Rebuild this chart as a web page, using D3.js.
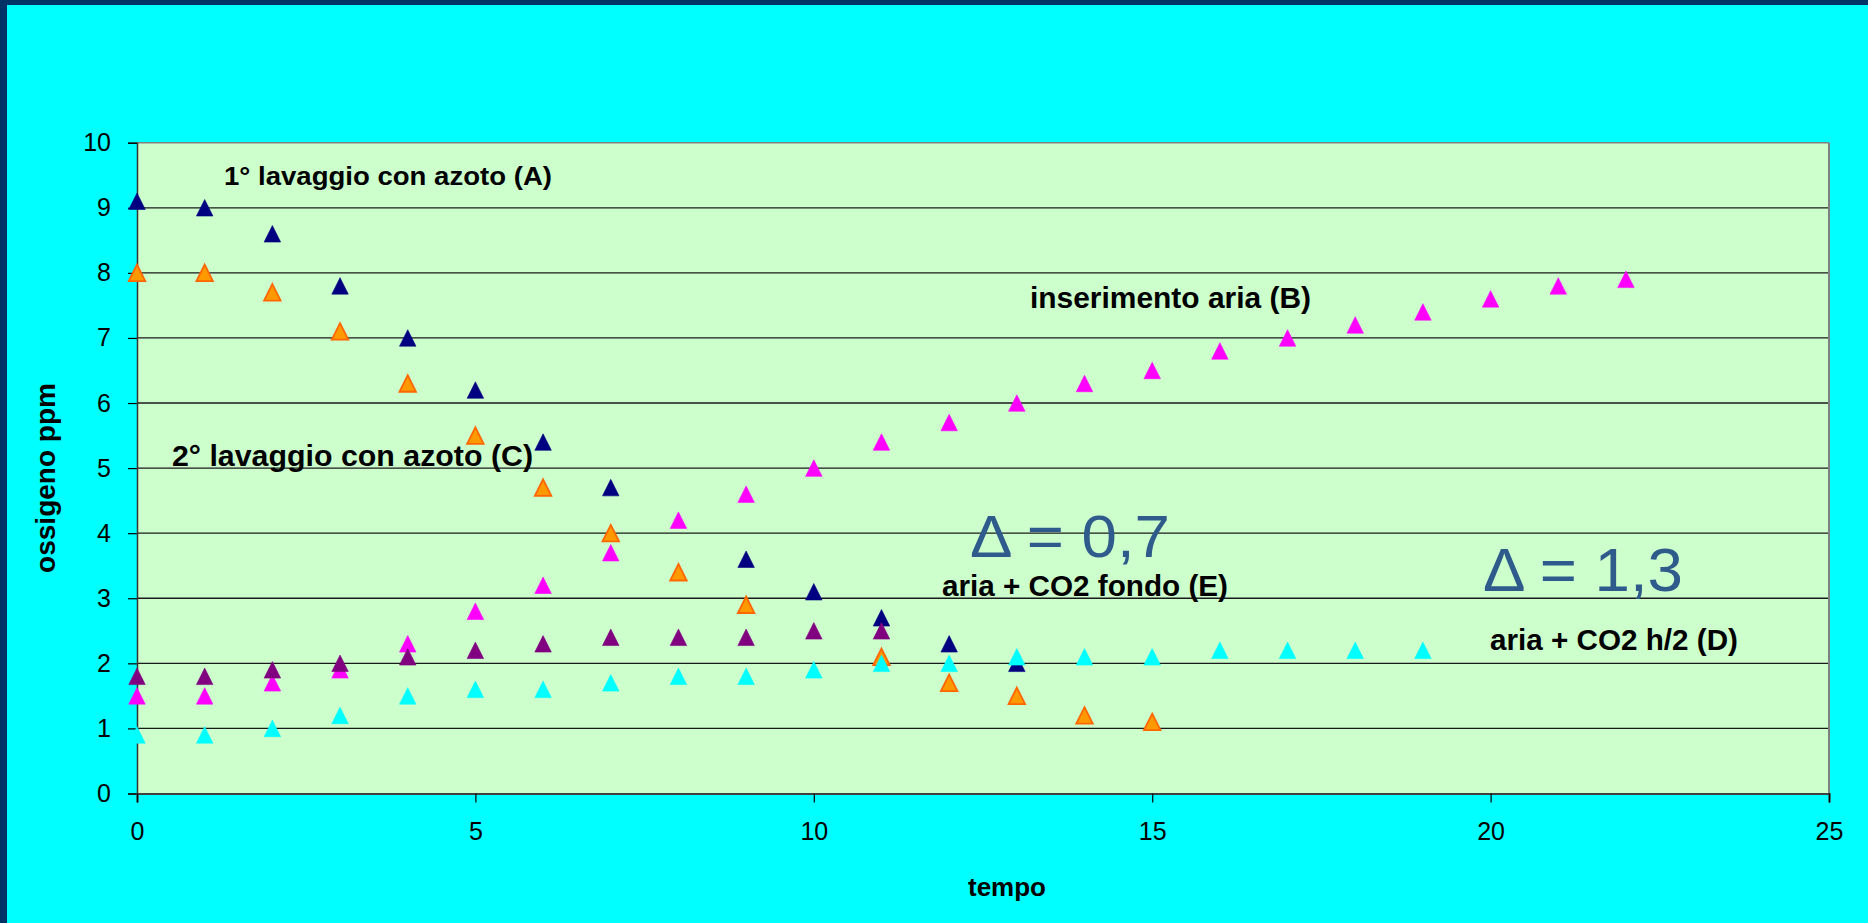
<!DOCTYPE html>
<html>
<head>
<meta charset="utf-8">
<script src="https://cdn.jsdelivr.net/npm/d3@7"></script>
<style>
  html, body { margin: 0; padding: 0; background: #00FFFF; }
  svg { display: block; }
  text { font-family: "Liberation Sans", Arial, sans-serif; }
</style>
</head>
<body>
<svg id="chart" width="1868" height="923"></svg>
<script>
// ---- data ----
const xTicks = [0, 5, 10, 15, 20, 25];
const yTicks = [0, 1, 2, 3, 4, 5, 6, 7, 8, 9, 10];

// A: 1° lavaggio con azoto (navy)
const seriesA = [9.1, 9.0, 8.6, 7.8, 7.0, 6.2, 5.4, 4.7, null, 3.6, 3.1, 2.7, 2.3, 2.0];
// B: inserimento aria (magenta)
const seriesB = [1.5, 1.5, 1.7, 1.9, 2.3, 2.8, 3.2, 3.7, 4.2, 4.6, 5.0, 5.4, 5.7, 6.0, 6.3, 6.5, 6.8, 7.0, 7.2, 7.4, 7.6, 7.8, 7.9];
// C: 2° lavaggio con azoto (orange)
const seriesC = [8.0, 8.0, 7.7, 7.1, 6.3, 5.5, 4.7, 4.0, 3.4, 2.9, null, 2.1, 1.7, 1.5, 1.2, 1.1];
// D: aria + CO2 h/2 (cyan)
const seriesD = [0.9, 0.9, 1.0, 1.2, 1.5, 1.6, 1.6, 1.7, 1.8, 1.8, 1.9, 2.0, 2.0, 2.1, 2.1, 2.1, 2.2, 2.2, 2.2, 2.2];
// E: aria + CO2 fondo (purple)
const seriesE = [1.8, 1.8, 1.9, 2.0, 2.1, 2.2, 2.3, 2.4, 2.4, 2.4, 2.5, 2.5];

const seriesNames = ["A", "B", "C", "D", "E"];
const seriesValues = [seriesA, seriesB, seriesC, seriesD, seriesE];
const seriesFill = ["#000080", "#FF00FF", "#FF9900", "#00FFFF", "#800080"];
const seriesStroke = ["#000080", "#FF00FF", "#FF6600", "#00FFFF", "#800080"];

const labels = [
  { text: "1° lavaggio con azoto (A)", x: 224, y: 185, size: 26, len: 328, kind: "label" },
  { text: "2° lavaggio con azoto (C)", x: 172, y: 466, size: 29, len: 361, kind: "label" },
  { text: "inserimento aria (B)", x: 1030, y: 308, size: 30, len: 281, kind: "label" },
  { text: "aria + CO2 fondo (E)", x: 942, y: 596, size: 29, len: 286, kind: "label" },
  { text: "aria + CO2 h/2 (D)", x: 1490, y: 650, size: 29, len: 248, kind: "label" },
  { text: "\u0394 = 0,7", x: 970, y: 557, size: 60, len: 200, kind: "delta" },
  { text: "\u0394 = 1,3", x: 1483, y: 591, size: 61, len: 200, kind: "delta" }
];

// ---- layout ----
const W = 1868, H = 923;
const plot = { left: 137, right: 1829, top: 142.7, bottom: 793.5 };

const svg = d3.select("#chart");

// background + frame
svg.append("rect").attr("x", 0).attr("y", 0).attr("width", W).attr("height", H).attr("fill", "#00FFFF");
svg.append("rect").attr("x", 0).attr("y", 0).attr("width", 7).attr("height", H).attr("fill", "#003366");
svg.append("rect").attr("x", 0).attr("y", 0).attr("width", W).attr("height", 5).attr("fill", "#003366");

const x = d3.scaleLinear().domain([0, 25]).range([plot.left, plot.right]);
const y = d3.scaleLinear().domain([0, 10]).range([plot.bottom, plot.top]);

// plot area
svg.append("rect")
  .attr("x", plot.left).attr("y", plot.top)
  .attr("width", plot.right - plot.left).attr("height", plot.bottom - plot.top)
  .attr("fill", "#CCFFCC");

// gridlines
svg.append("g").selectAll("line")
  .data(yTicks.filter(d => d > 0 && d < 10))
  .join("line")
  .attr("x1", plot.left).attr("x2", plot.right)
  .attr("y1", d => y(d)).attr("y2", d => y(d))
  .attr("stroke", "#1a1a1a").attr("stroke-width", 1.3);

// top & right border
svg.append("line").attr("x1", plot.left).attr("x2", plot.right).attr("y1", y(10)).attr("y2", y(10))
  .attr("stroke", "#808080").attr("stroke-width", 1.5);
svg.append("line").attr("x1", plot.right).attr("x2", plot.right).attr("y1", plot.top).attr("y2", plot.bottom)
  .attr("stroke", "#808080").attr("stroke-width", 2);

// axes
const yAxis = d3.axisLeft(y).tickValues(yTicks).tickSize(9).tickPadding(17).tickFormat(d3.format("d"));
const gy = svg.append("g").attr("transform", `translate(${plot.left},0)`).call(yAxis);
gy.select(".domain").attr("stroke", "#333").attr("stroke-width", 1.5);
gy.selectAll(".tick line").attr("stroke", "#000").attr("stroke-width", 1.2);
gy.selectAll(".tick text").attr("font-size", 25).attr("fill", "#000")
  .attr("font-family", "Liberation Sans, Arial, sans-serif");

const xAxis = d3.axisBottom(x).tickValues(xTicks).tickSize(9).tickPadding(20).tickFormat(d3.format("d"));
const gx = svg.append("g").attr("transform", `translate(0,${plot.bottom})`).call(xAxis);
gx.select(".domain").attr("stroke", "#404040").attr("stroke-width", 2.2);
gx.selectAll(".tick line").attr("stroke", "#000").attr("stroke-width", 1.2);
gx.selectAll(".tick text").attr("font-size", 25).attr("fill", "#000")
  .attr("font-family", "Liberation Sans, Arial, sans-serif");

// axis titles
svg.append("text")
  .attr("transform", `translate(55,478) rotate(-90)`)
  .attr("text-anchor", "middle")
  .attr("font-weight", "bold").attr("font-size", 28)
  .text("ossigeno ppm");
svg.append("text")
  .attr("x", 1007).attr("y", 896)
  .attr("text-anchor", "middle")
  .attr("font-weight", "bold").attr("font-size", 26)
  .text("tempo");

// markers: triangle centred on the point (bbox centre)
const triW = 16.5, triH = 16.5;
const triangle = {
  draw(ctx, size) {
    ctx.moveTo(0, -triH / 2);
    ctx.lineTo(triW / 2, triH / 2);
    ctx.lineTo(-triW / 2, triH / 2);
    ctx.closePath();
  }
};
const sym = d3.symbol().type(triangle);

seriesValues.forEach((vals, i) => {
  const pts = vals.map((v, k) => ({ t: k, v })).filter(d => d.v !== null);
  svg.append("g").attr("class", "series-" + seriesNames[i])
    .selectAll("path")
    .data(pts)
    .join("path")
    .attr("d", sym)
    .attr("transform", d => `translate(${x(d.t)},${y(d.v)})`)
    .attr("fill", seriesFill[i])
    .attr("stroke", seriesStroke[i])
    .attr("stroke-width", i === 2 ? 1.8 : 0.6)
    .attr("stroke-linejoin", "miter");
});

// annotations
svg.append("g").selectAll("text")
  .data(labels)
  .join("text")
  .attr("x", d => d.x).attr("y", d => d.y)
  .attr("font-size", d => d.size)
  .attr("font-weight", d => d.kind === "label" ? "bold" : "normal")
  .attr("fill", d => d.kind === "label" ? "#000" : "#2F5A8C")
  .attr("textLength", d => d.len)
  .attr("lengthAdjust", "spacingAndGlyphs")
  .text(d => d.text);
</script>
</body>
</html>
